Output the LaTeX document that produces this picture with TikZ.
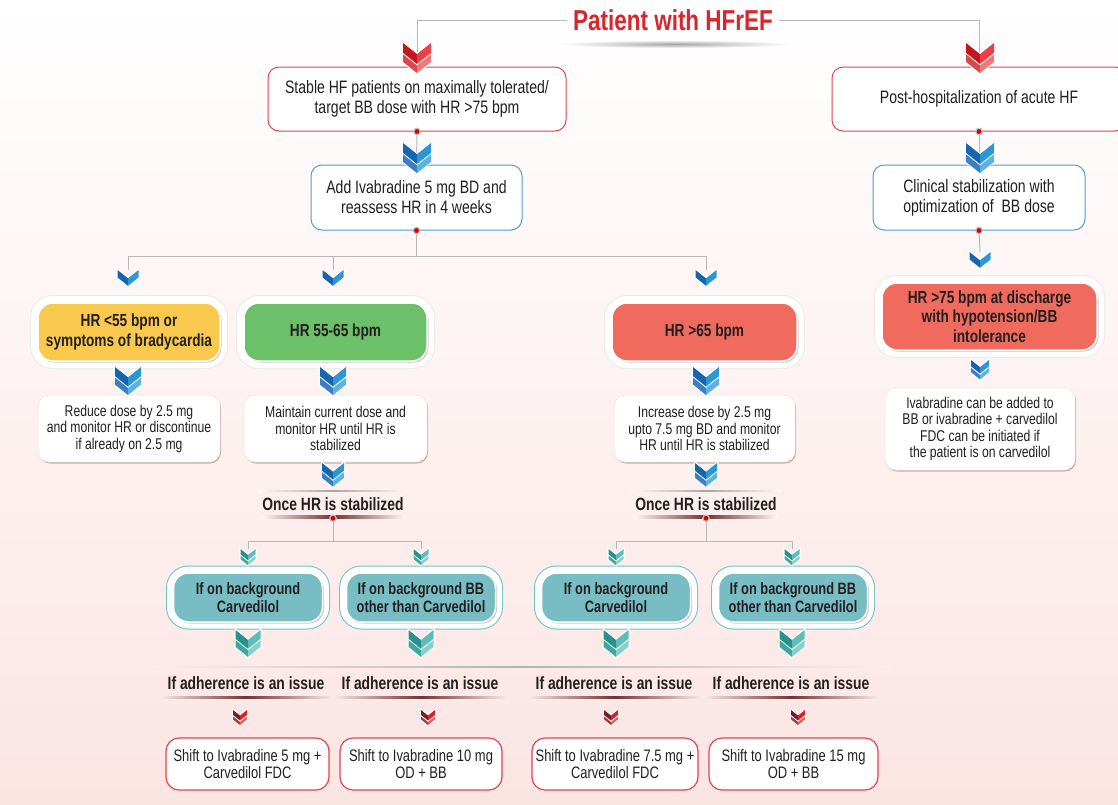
\documentclass[tikz,border=0pt]{standalone}
\usepackage{fontspec}
\setmainfont[FakeStretch=0.78]{Liberation Sans}
\usetikzlibrary{shadows}
\definecolor{txt}{HTML}{231F20}
\definecolor{redline}{HTML}{E1454B}
\definecolor{blueline}{HTML}{4B9ED8}
\definecolor{yfill}{HTML}{F9C94E}
\definecolor{gfill}{HTML}{6CC06A}
\definecolor{rfill}{HTML}{F06B5E}
\definecolor{tfill}{HTML}{78BDC4}
\definecolor{tline}{HTML}{6EC3C8}
\definecolor{titlered}{HTML}{D9252B}
\definecolor{bgpink}{RGB}{251,229,227}
\definecolor{cvRd}{HTML}{C4161C}\definecolor{cvRl}{HTML}{EE3F46}
\definecolor{cvRd2}{HTML}{D8484E}\definecolor{cvRl2}{HTML}{F2777B}
\definecolor{cvBd}{HTML}{1565B0}\definecolor{cvBl}{HTML}{2B98D5}
\definecolor{cvBd2}{HTML}{3B7FC0}\definecolor{cvBl2}{HTML}{5AB3E3}
\definecolor{cvTd}{HTML}{25928E}\definecolor{cvTl}{HTML}{5DBDB8}
\definecolor{cvTd2}{HTML}{3FA6A2}\definecolor{cvTl2}{HTML}{86CFCB}
\definecolor{cvKd}{HTML}{7A1D1D}\definecolor{cvKl}{HTML}{D2232A}
\definecolor{cvKd2}{HTML}{A04040}\definecolor{cvKl2}{HTML}{E06066}
\newcommand\fsz[2]{\fontsize{#1}{#2}\selectfont}
% fading bar: centre x, half width, top y, height, edge colour, middle colour
\newcommand\fadebar[6]{%
  \shade[left color=#5, right color=#5, middle color=#6] (#1-#2,#3) rectangle (#1+#2,#3+#4);}
% one chevron: x, top y, half width, dark, light
\newcommand\chevone[5]{%
  \begin{scope}[shift={(#1,#2)}]
    \draw[white, line width=2pt, line join=miter] (-#3,0) -- (0,0.8*#3) -- (#3,0) -- (#3,0.7*#3) -- (0,1.5*#3) -- (-#3,0.7*#3) -- cycle;
    \fill[#4] (-#3,0) -- (0,0.8*#3) -- (0,1.5*#3) -- (-#3,0.7*#3) -- cycle;
    \fill[#5] (#3,0) -- (0,0.8*#3) -- (0,1.5*#3) -- (#3,0.7*#3) -- cycle;
  \end{scope}}
% double chevron: x, top y, half width, dark, light, dark2, light2
\newcommand\chevtwo[7]{%
  \chevone{#1}{#2+0.65*#3}{#3}{#6}{#7}%
  \chevone{#1}{#2}{#3}{#4}{#5}}
\newcommand\rdot[1]{\fill[red!85!black, draw=black!25, line width=1.2pt] (#1) circle (3.2pt);}
\tikzset{
  conn/.style={draw=black!28, line width=1pt},
  base/.style={align=center, inner sep=0pt, text=txt},
  redbox/.style={base, rounded corners=11pt, draw=redline, line width=1pt, fill=white, font=\fsz{18}{20}},
  bluebox/.style={base, rounded corners=11pt, draw=blueline, line width=1pt, fill=white, font=\fsz{18}{20}},
  finbox/.style={base, rounded corners=13pt, draw=redline, line width=1.2pt, fill=white, font=\fsz{16.6}{17}},
  hrbox/.style={base, rounded corners=15pt, draw=white, line width=1.5pt, font=\bfseries\fsz{17.5}{19.5},
    preaction={draw=black!8, line width=16pt},
    preaction={draw=white, line width=14pt},
    drop shadow={shadow xshift=1.5pt, shadow yshift=-1.5pt, opacity=0.3, fill=black!70}},
  whitebox/.style={base, rounded corners=11pt, fill=white, draw=black!8, line width=0.8pt, font=\fsz{15.6}{16.5},
    drop shadow={shadow xshift=1pt, shadow yshift=-1.5pt, opacity=0.3, fill=red!40!black}},
  tealbox/.style={base, rounded corners=15pt, fill=tfill, draw=white, line width=1.5pt, font=\bfseries\fsz{16.5}{18.5},
    preaction={draw=tline, line width=15pt},
    preaction={draw=white, line width=13pt},
    drop shadow={shadow xshift=1.5pt, shadow yshift=-1.5pt, opacity=0.3, fill=black!70}},
  boldlabel/.style={base, font=\bfseries\fsz{17.8}{19}, minimum height=28pt},
  titlenode/.style={base, inner sep=6pt, font=\bfseries\fsz{28.8}{30}, text=titlered}
}
\begin{document}
\begin{tikzpicture}[x=1pt,y=-1pt]
\useasboundingbox (0,0) rectangle (1118,804);
\clip (0,0) rectangle (1118,804);
\shade[top color=white, middle color=white, bottom color=bgpink] (0,0) rectangle (1118,804);

% title
\shade[inner color=black!35, outer color=white] (675,44) ellipse (118pt and 4pt);
\node[titlenode] (title) at (673,20) {Patient with HFrEF};

% left column top
\node[redbox, minimum width=298pt, minimum height=64pt] (b1) at (417,99) {Stable HF patients on maximally tolerated/\\target BB dose with HR >75 bpm};
\node[bluebox, minimum width=211pt, minimum height=65pt] (b2) at (416.5,197.5) {Add Ivabradine 5 mg BD and\\reassess HR in 4 weeks};

% right column
\node[redbox, minimum width=294pt, minimum height=64pt] (b3) at (979,99) {Post-hospitalization of acute HF};
\node[bluebox, minimum width=212pt, minimum height=65pt] (b4) at (979,197.5) {Clinical stabilization with\\optimization of\ \ BB dose};
\node[hrbox, fill=rfill, minimum width=215pt, minimum height=67pt] (h75) at (989.5,316.5) {HR >75 bpm at discharge\\with hypotension/BB\\intolerance};
\node[whitebox, minimum width=190pt, minimum height=82pt] (iv) at (980,429) {Ivabradine can be added to\\BB or ivabradine + carvedilol\\FDC can be initiated if\\the patient is on carvedilol};

% HR row
\node[hrbox, fill=yfill, minimum width=182pt, minimum height=58pt] (hrY) at (129,332) {HR <55 bpm or\\symptoms of bradycardia};
\node[hrbox, fill=gfill, minimum width=183pt, minimum height=58pt] (hrG) at (335.5,332) {HR 55-65 bpm};
\node[hrbox, fill=rfill, minimum width=185pt, minimum height=58pt] (hrR) at (704.5,332) {HR >65 bpm};

\node[whitebox, minimum width=182pt, minimum height=67pt] (wY) at (129,428.5) {Reduce dose by 2.5 mg\\and monitor HR or discontinue\\if already on 2.5 mg};
\node[whitebox, minimum width=183pt, minimum height=67pt] (wG) at (335.5,428.5) {Maintain current dose and\\monitor HR until HR is\\stabilized};
\node[whitebox, minimum width=181pt, minimum height=67pt] (wR) at (704.5,428.5) {Increase dose by 2.5 mg\\upto 7.5 mg BD and monitor\\HR until HR is stabilized};

% once HR is stabilized
\fadebar{333}{75}{490}{1.5}{bgpink!22}{black!35}
\fadebar{333}{72}{515.5}{2.5}{bgpink!28}{red!30!black!80}
\fadebar{706}{75}{490}{1.5}{bgpink!22}{black!35}
\fadebar{706}{72}{515.5}{2.5}{bgpink!28}{red!30!black!80}
\node[boldlabel] (onceG) at (333,504) {Once HR is stabilized};
\node[boldlabel] (onceR) at (706,504) {Once HR is stabilized};

% teal row
\node[tealbox, minimum width=149pt, minimum height=49pt] (t1) at (248,597.5) {If on background\\Carvedilol};
\node[tealbox, minimum width=149pt, minimum height=49pt] (t2) at (421,597.5) {If on background BB\\other than Carvedilol};
\node[tealbox, minimum width=149pt, minimum height=49pt] (t3) at (616,597.5) {If on background\\Carvedilol};
\node[tealbox, minimum width=149pt, minimum height=49pt] (t4) at (793,597.5) {If on background BB\\other than Carvedilol};

% adherence
\fadebar{520}{370}{666}{1.5}{bgpink!66}{black!30}
\fadebar{246}{88}{696}{2.5}{bgpink!73}{red!30!black!80}
\fadebar{420}{88}{696}{2.5}{bgpink!73}{red!30!black!80}
\fadebar{614}{88}{696}{2.5}{bgpink!73}{red!30!black!80}
\fadebar{791}{88}{696}{2.5}{bgpink!73}{red!30!black!80}
\node[boldlabel, minimum height=20pt] (a1) at (246,683) {If adherence is an issue};
\node[boldlabel, minimum height=20pt] (a2) at (420,683) {If adherence is an issue};
\node[boldlabel, minimum height=20pt] (a3) at (614,683) {If adherence is an issue};
\node[boldlabel, minimum height=20pt] (a4) at (791,683) {If adherence is an issue};

% final boxes
\node[finbox, minimum width=163pt, minimum height=52pt] (f1) at (247.5,764) {Shift to Ivabradine 5 mg +\\Carvedilol FDC};
\node[finbox, minimum width=162pt, minimum height=52pt] (f2) at (421,764) {Shift to Ivabradine 10 mg\\OD + BB};
\node[finbox, minimum width=166pt, minimum height=52pt] (f3) at (615,764) {Shift to Ivabradine 7.5 mg +\\Carvedilol FDC};
\node[finbox, minimum width=169pt, minimum height=52pt] (f4) at (793.5,764) {Shift to Ivabradine 15 mg\\OD + BB};

% chevron anchor coordinates
\coordinate (cY) at (128,270);
\coordinate (cG) at (333,270);
\coordinate (cR) at (706,270);
\coordinate (c75) at (980,252);
\coordinate (ct1) at (248,549);
\coordinate (ct2) at (421,549);
\coordinate (ct3) at (616,549);
\coordinate (ct4) at (792,549);

% connectors
\draw[conn] (title.west) -| (b1.north);
\draw[conn] (title.east) -| (b3.north);
\draw[conn] (b1.south) -- (b2.north);
\draw[conn] (b3.south) -- (b4.north);
\draw[conn] (b2.south) -- ++(0,26) coordinate (j1);
\draw[conn] (j1) -| (cY);
\draw[conn] (j1) -| (cG);
\draw[conn] (j1) -| (cR);
\draw[conn] (b4.south) -- (c75);
\draw[conn] (onceG.south) -- ++(0,23) coordinate (j2);
\draw[conn] (j2) -| (ct1);
\draw[conn] (j2) -| (ct2);
\draw[conn] (onceR.south) -- ++(0,23) coordinate (j3);
\draw[conn] (j3) -| (ct3);
\draw[conn] (j3) -| (ct4);

% dots
\rdot{b1.south}\rdot{b2.south}\rdot{b3.south}\rdot{b4.south}\rdot{onceG.south}\rdot{onceR.south}

% chevrons
\chevtwo{417}{43}{14}{cvRd}{cvRl}{cvRd2}{cvRl2}
\chevtwo{980}{43}{14}{cvRd}{cvRl}{cvRd2}{cvRl2}
\chevtwo{417}{143}{14}{cvBd}{cvBl}{cvBd2}{cvBl2}
\chevtwo{980}{143}{14}{cvBd}{cvBl}{cvBd2}{cvBl2}
\chevone{128}{270}{10.5}{cvBd}{cvBl}
\chevone{333}{270}{10.5}{cvBd}{cvBl}
\chevone{706}{270}{10.5}{cvBd}{cvBl}
\chevone{980}{252}{10.5}{cvBd}{cvBl}
\chevtwo{980}{360}{9}{cvBd}{cvBl}{cvBd2}{cvBl2}
\chevtwo{128}{367}{13}{cvBd}{cvBl}{cvBd2}{cvBl2}
\chevtwo{333}{367}{13}{cvBd}{cvBl}{cvBd2}{cvBl2}
\chevtwo{706}{367}{13}{cvBd}{cvBl}{cvBd2}{cvBl2}
\chevtwo{333}{463}{11}{cvBd}{cvBl}{cvBd2}{cvBl2}
\chevtwo{706}{463}{11}{cvBd}{cvBl}{cvBd2}{cvBl2}
\foreach \cx in {248,421,616,792}{
  \chevtwo{\cx}{549}{7.5}{cvTd}{cvTl}{cvTd2}{cvTl2}
  \chevtwo{\cx}{630}{12.5}{cvTd}{cvTl}{cvTd2}{cvTl2}
}
\foreach \cx in {240,428,611,798}{
  \chevtwo{\cx}{710}{7}{cvKd}{cvKl}{cvKd2}{cvKl2}
}
\end{tikzpicture}
\end{document}
